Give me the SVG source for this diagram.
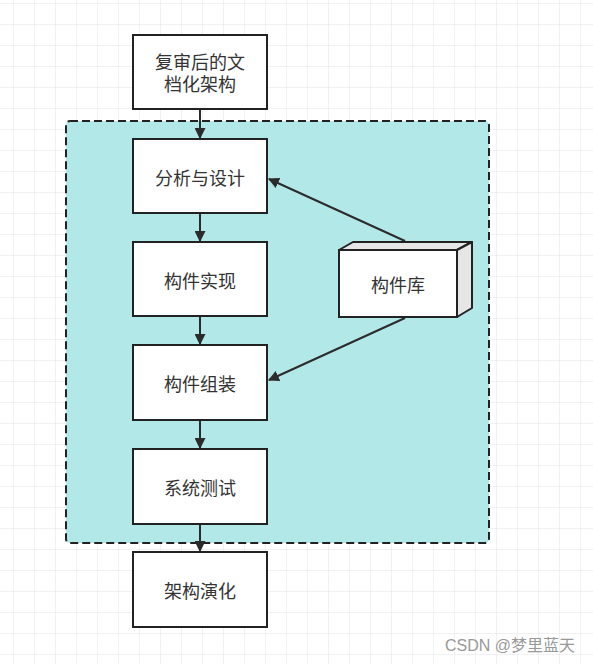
<svg xmlns="http://www.w3.org/2000/svg" width="593" height="664" viewBox="0 0 593 664">
<defs>
<pattern id="grid" x="-7" y="-17" width="21" height="21" patternUnits="userSpaceOnUse">
<path d="M21 0V21M0 21H21" fill="none" stroke="#e3e3e3" stroke-width="1"/>
</pattern>
<marker id="arr" viewBox="0 0 10 10" refX="9" refY="5" markerWidth="11" markerHeight="11" markerUnits="userSpaceOnUse" orient="auto">
<path d="M0 0L10 5L0 10Z" fill="#2b2b2b"/>
</marker>
<style>
.box{fill:#fff;stroke:#222;stroke-width:2}
.t{font-family:"Liberation Sans","Noto Sans CJK SC",sans-serif;font-size:18px;fill:#333;text-anchor:middle;dominant-baseline:central}
.c{fill:none;stroke:#2b2b2b;stroke-width:2;marker-end:url(#arr)}
</style>
</defs>
<rect width="593" height="664" fill="#fff"/>
<rect width="593" height="664" fill="url(#grid)"/>
<g id="container">
<rect x="66" y="121" width="423" height="422" rx="4" fill="#b3e8e9" stroke="#222" stroke-width="2" stroke-dasharray="8 4"/>
</g>
<g id="connectors">
<path class="c" d="M200 110V138"/>
<path class="c" d="M200 214V241"/>
<path class="c" d="M200 317V344"/>
<path class="c" d="M200 421V448"/>
<path class="c" d="M200 525V551"/>
<path class="c" d="M405 241L269 179"/>
<path class="c" d="M405 318L269 380"/>
</g>
<g id="n1"><rect class="box" x="133" y="35" width="134" height="74"/><text class="t"><tspan x="200" y="62.5">复审后的文</tspan><tspan x="200" y="84.5">档化架构</tspan></text></g>
<g id="n2"><rect class="box" x="133" y="139" width="134" height="74"/><text class="t" x="200" y="178.5">分析与设计</text></g>
<g id="n3"><rect class="box" x="133" y="242" width="134" height="74"/><text class="t" x="200" y="281.5">构件实现</text></g>
<g id="n4"><rect class="box" x="133" y="345" width="134" height="75"/><text class="t" x="200" y="384.5">构件组装</text></g>
<g id="n5"><rect class="box" x="133" y="449" width="134" height="75"/><text class="t" x="200" y="488.5">系统测试</text></g>
<g id="n6"><rect class="box" x="133" y="552" width="134" height="75"/><text class="t" x="200" y="591.5">架构演化</text></g>
<g id="lib">
<path d="M339 250L353 242H472L457 250Z" fill="#e6e6e6" stroke="#222" stroke-width="2" stroke-linejoin="round"/>
<path d="M457 250L472 242V308L457 317Z" fill="#e6e6e6" stroke="#222" stroke-width="2" stroke-linejoin="round"/>
<rect class="box" x="339" y="250" width="118" height="67"/>
<text class="t" x="398" y="285.5">构件库</text>
</g>
<text x="510" y="645" font-family="'Liberation Sans','Noto Sans CJK SC',sans-serif" font-size="16" fill="#999" text-anchor="middle" dominant-baseline="central">CSDN @梦里蓝天</text>
</svg>
